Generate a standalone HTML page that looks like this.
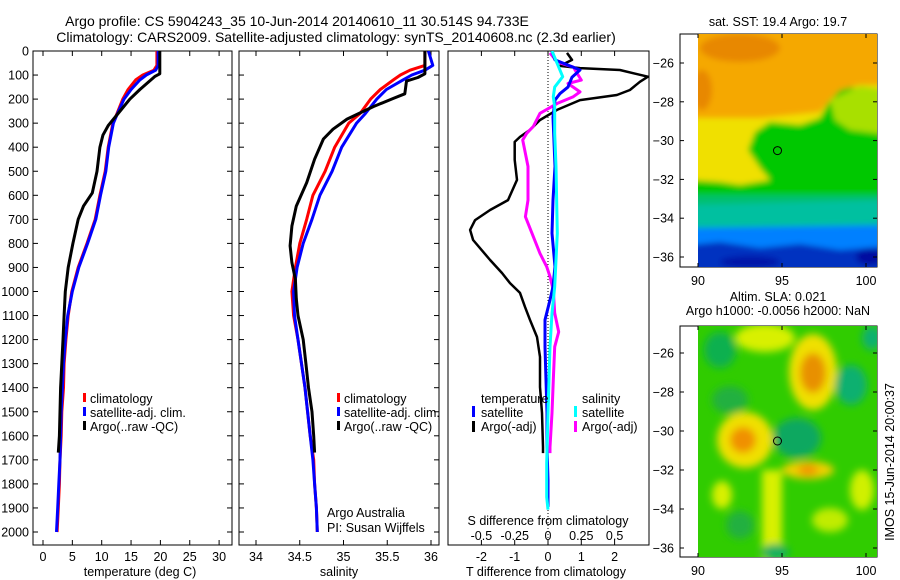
<!DOCTYPE html>
<html><head><meta charset="utf-8"><style>
html,body{margin:0;padding:0;background:#fff;}
svg{display:block;font-family:"Liberation Sans",sans-serif;}
text{font-size:12.5px;fill:#000;}
</style></head><body>
<svg id="fig" width="900" height="580" viewBox="0 0 900 580">
<defs>
<clipPath id="c1"><rect x="33" y="51" width="199" height="494"/></clipPath>
<clipPath id="c2"><rect x="239" y="51" width="200" height="494"/></clipPath>
<clipPath id="c3"><rect x="448" y="51" width="201" height="494"/></clipPath>
<clipPath id="m1"><rect x="698" y="34" width="179" height="233"/></clipPath>
<clipPath id="m2"><rect x="698" y="326" width="179" height="231"/></clipPath>
<filter id="bl" x="-20%" y="-20%" width="140%" height="140%"><feGaussianBlur stdDeviation="3"/></filter>
<filter id="bl2" x="-50%" y="-50%" width="200%" height="200%"><feGaussianBlur stdDeviation="4"/></filter>
</defs>
<text x="297" y="26" text-anchor="middle" style="font-size:14px">Argo profile: CS 5904243_35 10-Jun-2014 20140610_11 30.514S 94.733E</text>
<text x="336" y="42" text-anchor="middle" style="font-size:14px">Climatology: CARS2009. Satellite-adjusted climatology: synTS_20140608.nc (2.3d earlier)</text>

<!-- Map 1 SST -->
<g>
<rect x="680" y="34" width="197" height="233" fill="#fff" stroke="#000"/>
<g clip-path="url(#m1)">
<g filter="url(#bl)">
<rect x="690" y="25" width="200" height="250" fill="#00c800"/>
<polygon points="690,25 890,25 890,100 860,90 845,85 830,100 820,118 800,125 770,122 755,132 748,150 760,168 770,180 740,185 720,182 690,180" fill="#f0e000"/>
<polygon points="690,25 890,25 890,85 860,85 840,90 820,112 790,115 760,118 730,118 690,118" fill="#f5a800"/>
<ellipse cx="740" cy="48" rx="40" ry="14" fill="#e88800"/>
<ellipse cx="702" cy="90" rx="10" ry="20" fill="#e88800"/>
<polygon points="830,100 860,86 890,90 890,135 850,130 835,120" fill="#a8e000"/>
<rect x="690" y="195" width="200" height="20" fill="#00c070"/>
<polygon points="690,205 890,200 890,228 690,230" fill="#00c0a0"/>
<polygon points="690,228 890,225 890,275 690,275" fill="#0080ff"/>
<polygon points="690,245 720,242 760,248 800,244 840,250 890,246 890,275 690,275" fill="#0030c0"/>
<ellipse cx="870" cy="257" rx="14" ry="8" fill="#0010a0"/>
<ellipse cx="750" cy="262" rx="30" ry="6" fill="#0018a8"/>
</g>
</g>
<circle cx="777.5" cy="150.6" r="4" fill="none" stroke="#000" stroke-width="1"/>
</g>
<text x="778" y="26" text-anchor="middle">sat. SST: 19.4  Argo: 19.7</text>

<!-- Map 2 SLA -->
<g>
<rect x="680" y="326" width="197" height="231" fill="#fff" stroke="#000"/>
<g clip-path="url(#m2)">
<rect x="698" y="326" width="179" height="231" fill="#30cc00"/>
<g filter="url(#bl2)">
<ellipse cx="720" cy="350" rx="16" ry="18" fill="#10b050"/>
<ellipse cx="765" cy="338" rx="30" ry="14" fill="#d8f000"/>
<ellipse cx="813" cy="372" rx="24" ry="38" fill="#f0e000"/>
<ellipse cx="813" cy="373" rx="13" ry="20" fill="#e89000"/>
<ellipse cx="851" cy="385" rx="16" ry="20" fill="#10b070"/>
<ellipse cx="872" cy="338" rx="10" ry="12" fill="#10b070"/>
<ellipse cx="730" cy="400" rx="18" ry="14" fill="#20b040"/>
<ellipse cx="745" cy="440" rx="28" ry="28" fill="#f0e000"/>
<ellipse cx="743" cy="440" rx="13" ry="13" fill="#f09000"/>
<ellipse cx="797" cy="438" rx="24" ry="20" fill="#10a860"/>
<ellipse cx="808" cy="470" rx="26" ry="9" fill="#f0d000"/>
<ellipse cx="808" cy="470" rx="10" ry="6" fill="#f09800"/>
<rect x="762" y="470" width="20" height="90" fill="#d8f000"/>
<ellipse cx="722" cy="495" rx="10" ry="14" fill="#d8f000"/>
<ellipse cx="862" cy="490" rx="12" ry="20" fill="#d0f000"/>
<ellipse cx="830" cy="520" rx="18" ry="12" fill="#c0ec00"/>
<ellipse cx="775" cy="552" rx="14" ry="8" fill="#10b060"/>
<ellipse cx="740" cy="525" rx="14" ry="14" fill="#20b040"/>
</g>
</g>
<circle cx="777.5" cy="441" r="4" fill="none" stroke="#000" stroke-width="1"/>
</g>
<text x="778" y="301" text-anchor="middle">Altim. SLA: 0.021</text>
<text x="778" y="315" text-anchor="middle">Argo h1000: -0.0056 h2000: NaN</text>
<text transform="translate(894,462) rotate(-90)" text-anchor="middle">IMOS 15-Jun-2014 20:00:37</text>

<g id="axes"></g>
<g id="series"></g>

<!-- legends -->
<g>
<rect x="83" y="393" width="3" height="9" fill="#f00"/><text x="90" y="403">climatology</text>
<rect x="83" y="407" width="3" height="9" fill="#00f"/><text x="90" y="417">satellite-adj. clim.</text>
<rect x="83" y="421" width="3" height="9" fill="#000"/><text x="90" y="431">Argo(..raw -QC)</text>
</g>
<g>
<rect x="337" y="393" width="3" height="9" fill="#f00"/><text x="344" y="403">climatology</text>
<rect x="337" y="407" width="3" height="9" fill="#00f"/><text x="344" y="417">satellite-adj. clim.</text>
<rect x="337" y="421" width="3" height="9" fill="#000"/><text x="344" y="431">Argo(..raw -QC)</text>
</g>
<text x="327" y="517">Argo Australia</text>
<text x="327" y="532">PI: Susan Wijffels</text>
<g>
<text x="481" y="403">temperature</text>
<rect x="472" y="406" width="3" height="11" fill="#00f"/><text x="481" y="417">satellite</text>
<rect x="472" y="421" width="3" height="11" fill="#000"/><text x="481" y="431">Argo(-adj)</text>
<text x="582" y="403">salinity</text>
<rect x="574" y="406" width="3" height="11" fill="#0ff"/><text x="582" y="417">satellite</text>
<rect x="574" y="421" width="3" height="11" fill="#f0f"/><text x="582" y="431">Argo(-adj)</text>
</g>
<text x="548" y="525" text-anchor="middle">S difference from climatology</text>
<text x="140" y="576" text-anchor="middle">temperature (deg C)</text>
<text x="339" y="576" text-anchor="middle">salinity</text>
<text x="546" y="576" text-anchor="middle">T difference from climatology</text>

<script>
// ---- data ----
const climDepth=[0,60,80,100,120,160,200,260,300,400,500,600,700,800,900,1000,1100,1200,1300,1400,1500,1600,1700,1800,1900,2000];
const tClim=[19.4,19.4,18.9,17.0,15.8,14.5,13.6,12.6,11.9,11.1,10.6,9.7,8.9,7.5,6.0,4.9,4.3,3.9,3.6,3.5,3.2,3.1,2.9,2.8,2.6,2.4];
const tSat=[19.6,19.6,19.2,17.6,16.5,15.0,13.8,12.7,12.0,11.2,10.7,9.8,9.0,7.6,6.1,5.0,4.2,3.8,3.5,3.3,3.1,3.0,2.9,2.7,2.5,2.3];
const tArgoDepth=[0,95,105,160,200,260,310,350,400,500,590,645,700,800,900,1000,1100,1200,1300,1400,1500,1600,1670];
const tArgo=[19.9,19.9,19.1,16.5,14.8,12.8,11.1,10.2,9.7,9.2,8.4,6.9,6.0,5.1,4.3,3.8,3.6,3.4,3.2,3.0,2.9,2.8,2.6];
const sClim=[35.93,35.93,35.76,35.65,35.57,35.42,35.31,35.19,35.06,34.90,34.79,34.65,34.58,34.50,34.45,34.41,34.43,34.48,34.52,34.56,34.59,34.62,34.66,34.67,34.69,34.70];
const sSat=[35.97,36.02,35.93,35.78,35.68,35.49,35.38,35.25,35.15,34.98,34.87,34.73,34.64,34.54,34.47,34.43,34.44,34.48,34.52,34.56,34.59,34.62,34.65,34.67,34.69,34.70];
const sArgoDepth=[0,95,110,125,178,197,231,283,325,366,450,547,645,728,810,880,950,1030,1100,1200,1300,1400,1500,1600,1670];
const sArgo=[35.93,35.93,35.85,35.72,35.70,35.57,35.34,35.04,34.88,34.77,34.67,34.58,34.46,34.41,34.39,34.41,34.45,34.46,34.48,34.54,34.57,34.60,34.64,34.66,34.67];
const dTArgoDepth=[8,37,62,71,79,107,128,162,183,204,245,287,328,357,378,453,536,620,661,703,744,786,869,923,965,1006,1064,1118,1189,1272,1397,1505,1647,1672];
const dTArgo=[0.57,0.72,0.36,0.96,2.16,3.0,2.76,2.46,2.07,0.96,0.27,-0.24,-0.54,-0.84,-1.0,-1.0,-0.93,-1.2,-1.74,-2.19,-2.34,-2.25,-1.74,-1.38,-1.14,-0.84,-0.69,-0.54,-0.33,-0.24,-0.24,-0.18,-0.15,-0.15];
const dTSatDepth=[0,37,67,79,109,150,177,204,275,480,620,758,897,980,1035,1118,1230,1368,1505,1647,1784,1896];
const dTSat=[0.12,0.21,0.75,0.96,0.72,0.6,0.36,0.21,0.15,0.21,0.15,0.12,0.21,0.15,0.06,-0.09,-0.09,-0.06,-0.03,-0.03,0,0];
const dSArgoDepth=[8,46,67,121,135,170,190,218,259,314,342,370,480,620,689,758,842,897,938,994,1090,1168,1230,1368,1505,1647,1672];
const dSArgo=[0.015,0.07,0.19,0.25,0.15,0.24,0.19,0.07,-0.06,-0.11,-0.16,-0.19,-0.15,-0.15,-0.17,-0.12,-0.06,-0.01,0.015,0.04,0.05,0.08,0.05,0.04,0.03,0.015,0.015];
const dSSatDepth=[0,67,107,150,190,232,342,480,758,980,1090,1230,1505,1713,1855,1907];
const dSSat=[0.03,0.08,0.11,0.05,0.04,0.05,0.05,0.06,0.07,0.05,0.03,0.015,0,-0.01,-0.01,0];
const depthTicks=[0,100,200,300,400,500,600,700,800,900,1000,1100,1200,1300,1400,1500,1600,1700,1800,1900,2000];
const tempTicks=[0,5,10,15,20,25,30];
const salTicks=[34,34.5,35,35.5,36];
const salTickLabels=["34","34.5","35","35.5","36"];
const dTTicks=[-2,-1,0,1,2];
const dSTicks=[-0.5,-0.25,0,0.25,0.5];
const dSTickLabels=["-0.5","-0.25","0","0.25","0.5"];
const lonTicks=[90,95,100];
const latTicks=[-26,-28,-30,-32,-34,-36];

// ---- scales ----
const NS="http://www.w3.org/2000/svg";
const yD=d=>51+d*0.2405;
const xT=v=>43+v*5.87;
const xS=v=>256+(v-34)*87.5;
const xDT=v=>548+v*33.3;
const xDS=v=>548+v*133.2;
const xLon=v=>698+(v-90)*16.8;
const yLat1=v=>63+(-26-v)*19.4;
const yLat2=v=>353+(-26-v)*19.5;

const axes=document.getElementById('axes');
const series=document.getElementById('series');
function mk(tag,attrs,parent){const e=document.createElementNS(NS,tag);for(const k in attrs)e.setAttribute(k,attrs[k]);parent.appendChild(e);return e;}
function txt(x,y,s,anchor,parent){const t=mk('text',{x:x,y:y,'text-anchor':anchor},parent);t.textContent=s;return t;}

function box(x0,y0,x1,y1,name){
  const r=mk('rect',{x:x0,y:y0,width:x1-x0,height:y1-y0,fill:'none',stroke:'#000','stroke-width':1},axes);
  
  
}
box(33,51,232,545,'temperature-axes');
box(239,51,439,545,'salinity-axes');
box(448,51,649,545,'difference-axes');

depthTicks.forEach(d=>{
  const y=yD(d);
  [[33,232],[239,439]].forEach(([a,b])=>{
    mk('line',{x1:a,y1:y,x2:a+5,y2:y,stroke:'#000'},axes);
    mk('line',{x1:b,y1:y,x2:b-5,y2:y,stroke:'#000'},axes);
  });
  const t=txt(29,y+4.5,String(d),'end',axes);
  
  
});
function xticks(vals,labels,sc,y0,y1,ly){
  vals.forEach((v,i)=>{
    const x=sc(v);
    mk('line',{x1:x,y1:y0,x2:x,y2:y0+5,stroke:'#000'},axes);
    mk('line',{x1:x,y1:y1,x2:x,y2:y1-5,stroke:'#000'},axes);
    if(ly){const t=txt(x,ly,labels[i],'middle',axes);
      
      }
  });
}
xticks(tempTicks,tempTicks.map(String),xT,51,545,561);
xticks(salTicks,salTickLabels,xS,51,545,561);
xticks(dTTicks,dTTicks.map(String),xDT,51,545,561);
dSTicks.forEach((v,i)=>{
  const t=txt(xDS(v),540,dSTickLabels[i],'middle',axes);
  
  
});
const zl=mk('line',{x1:548,y1:51,x2:548,y2:545,stroke:'#000','stroke-dasharray':'1,2'},axes);



function mapAxes(yLat,top,bot,lonLabY){
  lonTicks.forEach(v=>{
    const x=xLon(v);
    mk('line',{x1:x,y1:top,x2:x,y2:top+4,stroke:'#000'},axes);
    mk('line',{x1:x,y1:bot,x2:x,y2:bot-4,stroke:'#000'},axes);
    const t=txt(x,lonLabY,String(v),'middle',axes);
    
    
  });
  latTicks.forEach(v=>{
    const y=yLat(v);
    mk('line',{x1:680,y1:y,x2:684,y2:y,stroke:'#000'},axes);
    mk('line',{x1:877,y1:y,x2:873,y2:y,stroke:'#000'},axes);
    const t=txt(674,y+4.5,String(v).replace('-','\u2212'),'end',axes);
    
    
  });
}
mapAxes(yLat1,34,267,285);
mapAxes(yLat2,326,557,575);

function line(depths,vals,sx,color,w,clip,name){
  const pts=depths.map((d,i)=>sx(vals[i]).toFixed(1)+','+yD(d).toFixed(1)).join(' ');
  const p=mk('polyline',{points:pts,fill:'none',stroke:color,'stroke-width':w,'stroke-linejoin':'round','clip-path':'url(#'+clip+')'},series);
  
  
}
line(climDepth,tClim,xT,'#f00',3,'c1','temperature-climatology-line');
line(climDepth,tSat,xT,'#00f',3,'c1','temperature-satellite-line');
line(tArgoDepth,tArgo,xT,'#000',3,'c1','temperature-argo-line');
line(climDepth,sClim,xS,'#f00',3,'c2','salinity-climatology-line');
line(climDepth,sSat,xS,'#00f',3,'c2','salinity-satellite-line');
line(sArgoDepth,sArgo,xS,'#000',3,'c2','salinity-argo-line');
line(dTArgoDepth,dTArgo,xDT,'#000',2.5,'c3','t-diff-argo-line');
line(dSArgoDepth,dSArgo,xDS,'#f0f',3,'c3','s-diff-argo-line');
line(dTSatDepth,dTSat,xDT,'#00f',3,'c3','t-diff-satellite-line');
line(dSSatDepth,dSSat,xDS,'#0ff',3,'c3','s-diff-satellite-line');
</script>
</svg>
</body></html>
